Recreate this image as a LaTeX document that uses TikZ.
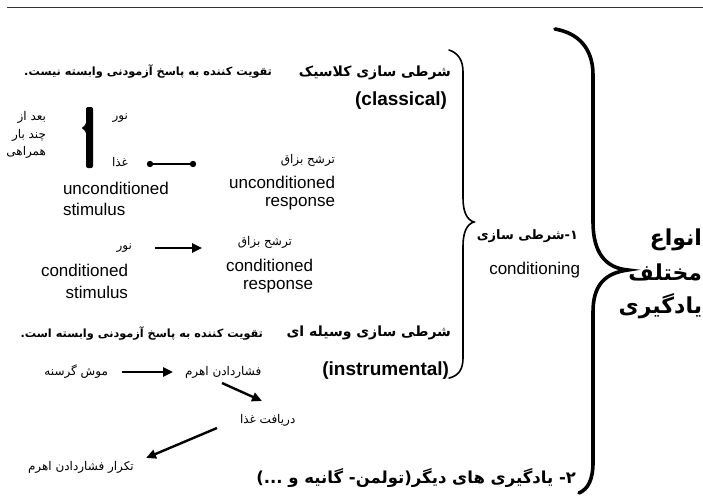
\documentclass[tikz,border=0pt]{standalone}
\usepackage{fontspec}
\setmainfont{Liberation Sans}
\newfontfamily\farsi[Script=Arabic]{DejaVu Sans}
\TeXXeTstate=1
\usetikzlibrary{arrows.meta}
\newcommand\fa[1]{{\farsi\beginR #1\endR}}
\tikzset{
  txt/.style={inner sep=0pt, outer sep=0pt},
  en/.style={txt, font=\fontsize{17}{20}\selectfont},
  enb/.style={txt, font=\fontsize{19}{22}\selectfont\bfseries},
  fas/.style={txt, font=\fontsize{12}{14}\selectfont},
  fasb/.style={txt, font=\fontsize{11.3}{14}\selectfont\bfseries},
  fab/.style={txt, font=\fontsize{14}{16}\selectfont\bfseries},
  fabone/.style={txt, font=\fontsize{13}{16}\selectfont\bfseries},
  fabtwo/.style={txt, font=\fontsize{16.5}{18}\selectfont\bfseries},
  fabig/.style={txt, font=\fontsize{22}{26}\selectfont\bfseries},
  arr/.style={line width=2.4pt, -{Triangle[length=10pt,width=9pt]}},
  bigbrace/.style={line width=3.6pt, line cap=round},
  smallbrace/.style={line width=1.6pt, line cap=round},
}
\begin{document}
\begin{tikzpicture}[x=1pt,y=-1pt]
\useasboundingbox (0,0) rectangle (703,495);
\fill[white] (0,0) rectangle (703,495);

% top rule
\coordinate (tl1) at (7,8);
\coordinate (tl2) at (703,8);
\draw[line width=1pt, black!80] (tl1) -- (tl2);

% big brace
\draw[bigbrace] (555,29) .. controls (578,33) and (593,48) .. (593,75)
  -- (593,222) .. controls (593,252) and (605,268) .. (628,270)
  .. controls (605,273) and (593,285) .. (593,312)
  -- (593,462) .. controls (593,480) and (588,489) .. (579,493);

% inner brace
\draw[smallbrace] (449,50) .. controls (458,53) and (463,60) .. (463,72)
  -- (463,198) .. controls (463,212) and (467,220) .. (474,222)
  .. controls (467,224) and (463,232) .. (463,246)
  -- (463,358) .. controls (463,370) and (458,376) .. (449,378);

% right column
\node[fabig, anchor=east] (anwa) at (702,240) {\fa{انواع}};
\node[fabig, anchor=east] (mokh) at (702,272) {\fa{مختلف}};
\node[fabig, anchor=east] (yad) at (702,306) {\fa{یادگیری}};

% middle
\node[fabone, anchor=east] (cond) at (578,236) {\fa{۱-شرطی سازی}};
\node[en, anchor=east] (condE) at (580,270) {conditioning};
\node[fabtwo, anchor=east] (other) at (576,478) {\fa{۲- یادگیری های دیگر(تولمن- گانیه و ...)}};

% classical
\node[fab, anchor=east] (clhead) at (451,73) {\fa{شرطی سازی کلاسیک}};
\node[fasb, anchor=east] (clexp) at (272,71) {\fa{تقویت کننده به پاسخ آزمودنی وابسته نیست.}};
\node[enb, anchor=east] (classical) at (447,101) {(classical)};

\node[fas, anchor=east] (baad) at (46,117) {\fa{بعد از}};
\node[fas, anchor=east] (chand) at (46,135) {\fa{چند بار}};
\node[fas, anchor=east] (hamrahi) at (46,152) {\fa{همراهی}};
\fill[rounded corners=2pt] (86,107) -- (93,107) -- (93,168) -- (86,168) -- (86,131) -- (81,128) -- (86,125) -- cycle;

\node[fas, anchor=east] (nur1) at (128,118) {\fa{نور}};
\node[fas, anchor=east] (ghaza) at (128,162) {\fa{غذا}};
\coordinate (dl) at (150,164);
\coordinate (dr) at (193,164);
\draw[line width=1.6pt] (dl) -- (dr);
\fill (dl) circle (3.2);
\fill (dr) circle (3.2);

\node[fas, anchor=east] (tar1) at (335,160) {\fa{ترشح بزاق}};
\node[en, anchor=east] (ucr1) at (335,182) {unconditioned};
\node[en, anchor=east] (ucr2) at (335,204) {response};
\node[en, anchor=west] (ucs1) at (63,188) {unconditioned};
\node[en, anchor=west] (ucs2) at (63,209) {stimulus};

\node[fas, anchor=east] (nur2) at (132,248) {\fa{نور}};
\node[en, anchor=east] (cs1) at (128,270) {conditioned};
\node[en, anchor=east] (cs2) at (128,292) {stimulus};
\node[fas, anchor=east] (tar2) at (292,242) {\fa{ترشح بزاق}};
\node[en, anchor=east] (cr1) at (313,265) {conditioned};
\node[en, anchor=east] (cr2) at (313,287) {response};
\draw[arr] ([xshift=23pt]nur2.east) -- +(47,0);

% instrumental
\node[fab, anchor=east] (inhead) at (451,333) {\fa{شرطی سازی وسیله ای}};
\node[fasb, anchor=east] (inexp) at (263,333) {\fa{تقویت کننده به پاسخ آزمودنی وابسته است.}};
\node[enb, anchor=east] (instr) at (449,371) {(instrumental)};

\node[fas, anchor=east] (mouse) at (108,372) {\fa{موش گرسنه}};
\node[fas, anchor=west] (lever) at (185,372) {\fa{فشاردادن اهرم}};
\node[fas, anchor=west] (food) at (240,420) {\fa{دریافت غذا}};
\node[fas, anchor=west] (repeat) at (28,467) {\fa{تکرار فشاردادن اهرم}};

\draw[arr] ([xshift=14pt]mouse.east) -- ([xshift=-12pt]lever.west);
\coordinate (d1a) at (222,383);
\coordinate (d1b) at (262,401);
\coordinate (d2a) at (217,428);
\coordinate (d2b) at (146,458);
\draw[arr] (d1a) -- (d1b);
\draw[arr] (d2a) -- (d2b);
\end{tikzpicture}
\end{document}
